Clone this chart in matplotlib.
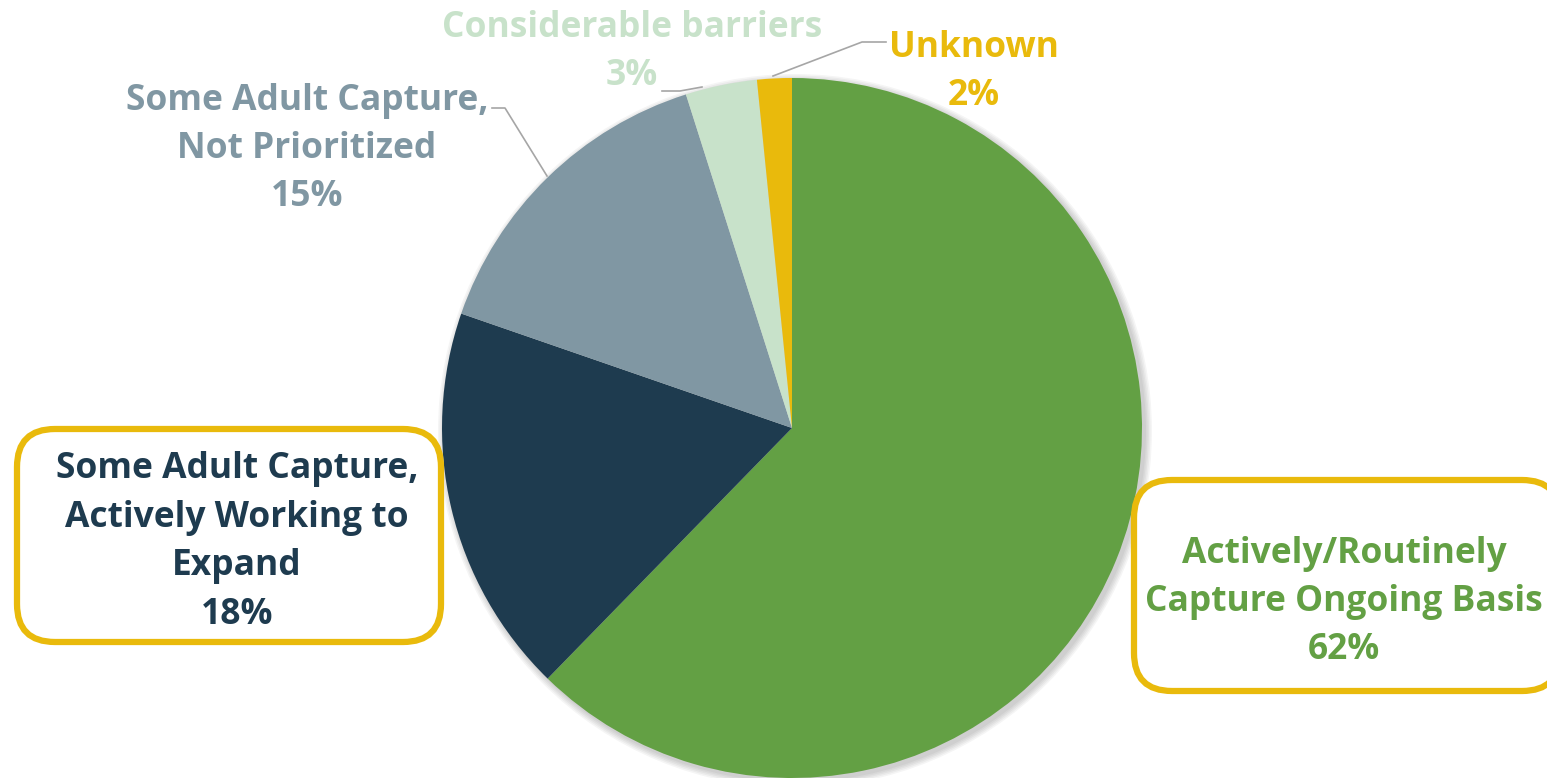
"""
Pie chart: adult capture status, recreated from a reference picture.
"""

import matplotlib
matplotlib.use("Agg")
import matplotlib.pyplot as plt
from matplotlib.patches import FancyBboxPatch, Circle

# ── Data ─────────────────────────────────────────────────────────
categories = [
    "Actively/Routinely\nCapture Ongoing Basis",
    "Some Adult Capture,\nActively Working to\nExpand",
    "Some Adult Capture,\nNot Prioritized",
    "Considerable barriers",
    "Unknown",
]
shares = [62.3, 18.0, 14.8, 3.3, 1.6]
colors = ["#63A044", "#1E3B4F", "#8097A3", "#C8E2CA", "#E9BA0C"]

W, H = 1547, 778
CX, CY, R = 792, 428, 350     # pie centre / radius in pixels (y down)
YELLOW = "#E9BA0C"


def py(y):
    """Pixel row (y down) -> data y (y up)."""
    return H - y


fig = plt.figure(figsize=(W / 100, H / 100), dpi=100)
ax = fig.add_axes([0, 0, 1, 1])

# soft shadow behind the pie
for i in range(5):
    ax.add_patch(Circle((CX + 3, py(CY) - 3), R + 1 + i * 1.5,
                        color="black", alpha=0.04, lw=0, zorder=1))

ax.pie(shares, colors=colors, startangle=90, counterclock=False,
       center=(CX, py(CY)), radius=R, frame=True,
       wedgeprops=dict(linewidth=0, zorder=2))
ax.set_xlim(0, W)
ax.set_ylim(0, H)
ax.set_aspect("auto")
ax.axis("off")

font = dict(family="Open Sans", weight="bold", fontsize=25.5,
            ha="center", va="center", linespacing=1.46)


def label(i, x, y):
    txt = f"{categories[i]}\n{round(shares[i])}%"
    ax.text(x, py(y), txt, color=colors[i], zorder=5, **font)


# boxed labels
for (x0, y0, x1, y1) in [(17, 429, 441, 642), (1134, 480, 1560, 691)]:
    ax.add_patch(FancyBboxPatch((x0, py(y1)), x1 - x0, y1 - y0,
                                boxstyle="round,pad=0,rounding_size=38",
                                fc="white", ec=YELLOW, lw=4.5, zorder=4))

label(0, 1344, 602)
label(1, 237, 542)
label(2, 307, 149)
label(3, 632, 52)
label(4, 974, 72)

# leader lines
lc = "#A6A6A6"
ax.plot([492, 505, 547], [py(108), py(108), py(176)], color=lc, lw=1.2, zorder=5)
ax.plot([662, 680, 702], [py(91), py(91), py(87)], color=lc, lw=1.2, zorder=5)
ax.plot([886, 862, 773], [py(42), py(42), py(76)], color=lc, lw=1.2, zorder=5)

fig.savefig("out.png", dpi=100)
